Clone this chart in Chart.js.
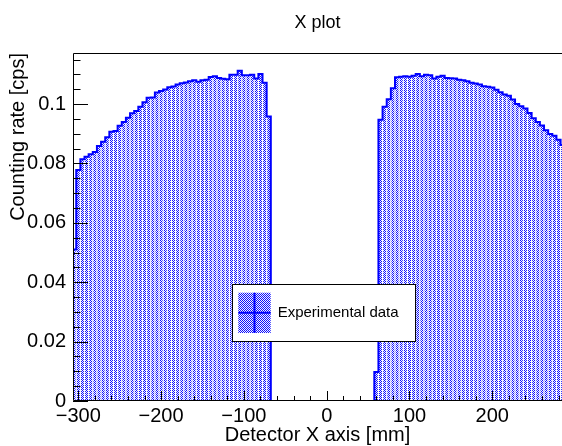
<!DOCTYPE html>
<html><head><meta charset="utf-8">
<script src="https://cdn.jsdelivr.net/npm/chart.js@4.4.1/dist/chart.umd.min.js"></script>
<style>html,body{margin:0;padding:0;background:#fff;} canvas{display:block}</style>
</head><body><canvas id="c" width="562" height="446"></canvas>
<script>
const chartTitle = 'X plot';
const xAxisTitle = 'Detector X axis [mm]';
const yAxisTitle = 'Counting rate [cps]';
const seriesLabel = 'Experimental data';
const binWidth = 5;
const binCenters = [
 -305,-300,-295,-290,-285,-280,-275,-270,-265,-260,-255,-250,-245,-240,-235,-230,-225,-220,-215,-210,
 -205,-200,-195,-190,-185,-180,-175,-170,-165,-160,-155,-150,-145,-140,-135,-130,-125,-120,-115,-110,
 -105,-100,-95,-90,-85,-80,-75,-70,
 -65,-60,-55,-50,-45,-40,-35,-30,-25,-20,-15,-10,-5,0,5,10,15,20,25,30,35,40,45,50,55,
 60,65,70,75,80,85,90,95,100,105,110,115,120,125,130,135,140,145,150,155,160,165,170,175,180,185,
 190,195,200,205,210,215,220,225,230,235,240,245,250,255,260,265,270,275,280,285];
const counts = [
 0.0510,0.0778,0.0814,0.0823,0.0831,0.0839,0.0859,0.0873,0.0888,0.0907,0.0909,0.0927,0.0940,0.0954,0.0969,0.0977,0.0991,0.1006,0.1021,0.1022,
 0.1039,0.1044,0.1049,0.1057,0.1059,0.1066,0.1070,0.1073,0.1077,0.1080,0.1075,0.1080,0.1082,0.1091,0.1094,0.1088,0.1085,0.1084,0.1099,0.1099,
 0.1112,0.1097,0.1097,0.1099,0.1086,0.1101,0.1072,0.0958,
 0,0,0,0,0,0,0,0,0,0,0,0,0,0,0,0,0,0,0,0,0,0,0,0,0,
 0.0098,0.0947,0.0991,0.1016,0.1053,0.1090,0.1092,0.1094,0.1092,0.1095,0.1101,0.1094,0.1099,0.1097,0.1086,0.1092,0.1095,0.1088,0.1087,0.1086,
 0.1082,0.1080,0.1077,0.1072,0.1069,0.1066,0.1060,0.1058,0.1056,0.1048,0.1040,0.1032,0.1028,0.1015,0.1000,0.0993,0.0985,0.0970,0.0952,0.0940,
 0.0928,0.0912,0.0899,0.0893,0.0880,0.0862];
const xTicks = [-300,-200,-100,0,100,200];
const xTickLabels = ['\u2212300','\u2212200','\u2212100','0','100','200'];
const yTicks = [0,0.02,0.04,0.06,0.08,0.1];
const yTickLabels = ['0','0.02','0.04','0.06','0.08','0.1'];
const xRange = [-306.4, 284.2];
const yRange = [0, 0.1172];
const xMinorStep = 20;
const yMinorStep = 0.005;

const FONT = "'Liberation Sans', Arial, Helvetica, sans-serif";
const canvas = document.getElementById('c');
const ctx = canvas.getContext('2d');

const pc = document.createElement('canvas');
pc.width = 2; pc.height = 2;
const pg = pc.getContext('2d');
pg.fillStyle = '#f4f4ff'; pg.fillRect(0,0,2,2);
pg.fillStyle = '#1010ff'; pg.fillRect(0,0,1,1); pg.fillRect(1,1,1,1);
const pattern = ctx.createPattern(pc, 'repeat');

const bars = binCenters.map((c,i)=>({x:c, y:counts[i]}));
const outline = binCenters.map((c,i)=>({x:c - binWidth/2, y:counts[i]}));
outline.push({x: binCenters[binCenters.length-1] + binWidth/2, y: counts[counts.length-1]});

const rootAxes = {
  id:'rootAxes',
  afterDatasetsDraw(chart){
    const {ctx, chartArea:a, scales:{x, y}} = chart;
    ctx.save();
    ctx.strokeStyle = '#000'; ctx.lineWidth = 1;
    ctx.beginPath();
    ctx.moveTo(a.right, a.top + 0.5); ctx.lineTo(a.left + 0.5, a.top + 0.5);
    ctx.lineTo(a.left + 0.5, a.bottom - 0.5); ctx.lineTo(a.right, a.bottom - 0.5);
    ctx.stroke();
    const xMajor = 10, xMinor = 5, yMajor = 15, yMinor = 7.5;
    ctx.beginPath();
    for (let v = Math.ceil(xRange[0]/xMinorStep)*xMinorStep; v <= xRange[1]; v += xMinorStep) {
      const px = Math.round(x.getPixelForValue(v)) + 0.5;
      const len = xTicks.includes(v) ? xMajor : xMinor;
      ctx.moveTo(px, a.bottom); ctx.lineTo(px, a.bottom - len);
    }
    for (let k = 0; k * yMinorStep <= yRange[1] + 1e-9; k++) {
      const v = k * yMinorStep;
      const py = Math.round(y.getPixelForValue(v)) + 0.5;
      const len = (k % 4 === 0) ? yMajor : yMinor;
      ctx.moveTo(a.left, py); ctx.lineTo(a.left + len, py);
    }
    ctx.stroke();
    ctx.restore();
  }
};

const rootLegend = {
  id:'rootLegend',
  afterDraw(chart){
    const {ctx, chartArea:a} = chart;
    const W = a.right - a.left, H = a.bottom - a.top;
    const x1 = a.left + 0.3245*W, x2 = a.left + 0.6994*W;
    const y1 = a.top + 0.6638*H, y2 = a.top + 0.8276*H;
    ctx.save();
    ctx.fillStyle = '#fff';
    ctx.fillRect(x1, y1, x2-x1, y2-y1);
    ctx.strokeStyle = '#000'; ctx.lineWidth = 1;
    ctx.strokeRect(Math.round(x1)+0.5, Math.round(y1)+0.5, Math.round(x2-x1), Math.round(y2-y1));
    const sx1 = x1 + 6.6, sx2 = x1 + 39, sy1 = y1 + 8.7, sy2 = y2 - 8;
    ctx.fillStyle = pattern;
    ctx.fillRect(sx1, sy1, sx2-sx1, sy2-sy1);
    ctx.strokeStyle = '#0000ff'; ctx.lineWidth = 2;
    const my = (sy1+sy2)/2, mx = (sx1+sx2)/2;
    ctx.beginPath();
    ctx.moveTo(sx1, my); ctx.lineTo(sx2, my);
    ctx.moveTo(mx, sy1); ctx.lineTo(mx, sy2);
    ctx.stroke();
    ctx.fillStyle = '#000';
    ctx.font = '15px ' + FONT;
    ctx.textBaseline = 'middle'; ctx.textAlign = 'left';
    ctx.fillText(chart.data.datasets[0].label, x1 + 46, (y1+y2)/2);
    ctx.restore();
  }
};

Chart.defaults.font.family = FONT;
Chart.defaults.color = '#000';

new Chart(ctx, {
  type: 'bar',
  data: { datasets: [
    {type:'line', label: seriesLabel, data: outline, borderColor:'#0000ff', borderWidth:2, pointRadius:0, stepped:true, fill:false, order:0},
    {type:'bar', label: seriesLabel, data: bars, backgroundColor: pattern, borderWidth:0, barPercentage:0.72, categoryPercentage:1, order:1}
  ]},
  options: {
    responsive:false, animation:false, devicePixelRatio:1,
    layout:{padding:0},
    plugins:{
      legend:{display:false}, tooltip:{enabled:false},
      title:{display:true, text:chartTitle, fullSize:false, color:'#000',
             font:{size:18, weight:'normal', lineHeight:1.2}, padding:{top:12, bottom:19.4}}
    },
    scales:{
      x:{type:'linear', min:xRange[0], max:xRange[1], offset:false,
         grid:{display:false, drawTicks:false}, border:{display:false},
         afterBuildTicks: s => { s.ticks = xTicks.map(v => ({value:v})); },
         afterFit: s => { s.height = 45; },
         ticks:{font:{size:20}, padding:3, maxRotation:0, autoSkip:false, callback:(v,i)=>xTickLabels[i]},
         title:{display:true, text:xAxisTitle, font:{size:20, lineHeight:1}, padding:{top:0, bottom:1}}},
      y:{type:'linear', min:yRange[0], max:yRange[1],
         grid:{display:false, drawTicks:false}, border:{display:false},
         afterBuildTicks: s => { s.ticks = yTicks.map(v => ({value:v})); },
         afterFit: s => { s.width = 73; },
         ticks:{font:{size:20}, padding:7, autoSkip:false, callback:(v,i)=>yTickLabels[i]},
         title:{display:true, text:yAxisTitle, align:'end', font:{size:20, lineHeight:1}, padding:{top:8, bottom:0}}}
    }
  },
  plugins:[rootAxes, rootLegend]
});
</script>
</body></html>
